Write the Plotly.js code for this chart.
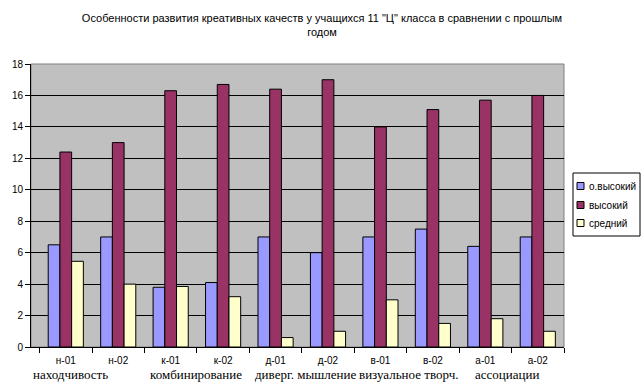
<!DOCTYPE html>
<html>
<head>
<meta charset="utf-8">
<script src="https://cdn.plot.ly/plotly-3.0.1.min.js"></script>
<style>html,body{margin:0;padding:0;background:#fff;}#chart{width:644px;height:389px;}</style>
</head>
<body>
<div id="chart"></div>
<script>
var categories = ["н-01","н-02","к-01","к-02","д-01","д-02","в-01","в-02","а-01","а-02"];
var groupLabels = ["находчивость","комбинирование","диверг. мышление","визуальное творч.","ассоциации"];
var groupLabelPos = [0.09, 2.49, 4.57, 6.53, 8.42];
var seriesNames = ["о.высокий","высокий","средний"];
var oVysokiy = [6.5, 7, 3.8, 4.1, 7, 6, 7, 7.5, 6.4, 7];
var vysokiy = [12.4, 13, 16.3, 16.7, 16.4, 17, 14, 15.1, 15.7, 16];
var sredniy = [5.45, 4, 3.85, 3.2, 0.6, 1, 3, 1.5, 1.8, 1];
var colors = ["#9999FF","#993366","#FFFFCC"];
var yTicks = [0,2,4,6,8,10,12,14,16,18];

var W = 644, H = 389, ML = 31, MR = 80, MT = 64, MB = 42;
var PW = W - ML - MR, PH = H - MT - MB;
function px(x){ return (x - ML) / PW; }
function py(y){ return (H - MB - y) / PH; }

var values = [oVysokiy, vysokiy, sredniy];
var traces = values.map(function(v,i){
  return {type:"bar", name:seriesNames[i], x:categories, y:v, showlegend:false,
    marker:{color:colors[i], line:{color:"#000", width:1}}};
});

var annotations = groupLabels.map(function(t,i){
  return {x:groupLabelPos[i], y:0, xref:"x", yref:"paper", yanchor:"top", yshift:-18,
    text:t, showarrow:false, font:{family:"Liberation Serif, Times New Roman, serif", size:13, color:"#000"}};
});

var shapes = [{type:"rect", xref:"paper", yref:"paper", x0:0, x1:1, y0:0, y1:1, line:{color:"#808080", width:1}, layer:"below"}];
shapes.push({type:"rect", xref:"paper", yref:"paper", x0:px(573), x1:px(640), y0:py(236), y1:py(173),
  line:{color:"#000", width:1}, fillcolor:"#fff", layer:"above"});
var legY = [186, 205, 223];
seriesNames.forEach(function(n,i){
  shapes.push({type:"rect", xref:"paper", yref:"paper", x0:px(577), x1:px(584), y0:py(legY[i]+3.5), y1:py(legY[i]-3.5),
    line:{color:"#000", width:1}, fillcolor:colors[i], layer:"above"});
  annotations.push({x:px(587), y:py(legY[i]), xref:"paper", yref:"paper", xanchor:"left", yanchor:"middle",
    text:n, showarrow:false, font:{size:10, color:"#000"}});
});

var layout = {
  width:W, height:H,
  margin:{l:ML, r:MR, t:MT, b:MB, autoexpand:false},
  paper_bgcolor:"#fff", plot_bgcolor:"#C0C0C0",
  font:{family:"Liberation Sans, Arial, sans-serif", size:10, color:"#000"},
  title:{text:"Особенности развития креативных качеств у учащихся 11 \"Ц\" класса в сравнении с прошлым<br>годом",
    xref:"container", x:0.5, xanchor:"center", yref:"container", y:1 - 22/H, yanchor:"top",
    font:{size:11, family:"Liberation Sans, Arial, sans-serif"}},
  barmode:"group", bargap:0.33, bargroupgap:0,
  xaxis:{type:"category", tickson:"boundaries", ticks:"outside", ticklen:5, tickcolor:"#000",
    ticklabelstandoff:4,
    showline:true, linecolor:"#000", linewidth:1, showgrid:false, tickfont:{size:10}},
  yaxis:{range:[0,18], tickvals:yTicks, ticks:"outside", ticklen:5, tickcolor:"#000",
    showline:true, linecolor:"#000", linewidth:1, gridcolor:"#000", gridwidth:1, zeroline:false,
    tickfont:{size:10}},
  shapes:shapes,
  annotations:annotations,
  showlegend:false
};

Plotly.newPlot("chart", traces, layout, {displayModeBar:false, staticPlot:true});
</script>
</body>
</html>
